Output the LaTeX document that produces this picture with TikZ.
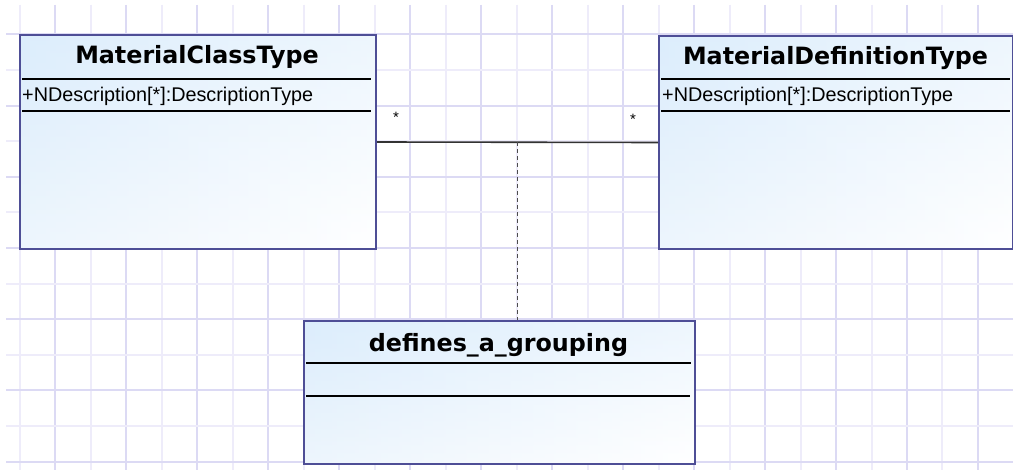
\documentclass[tikz,border=0pt]{standalone}
\usepackage{fontspec}
\setmainfont{Liberation Sans}
\newfontfamily\ttlfont{DejaVu Sans}
\usetikzlibrary{calc}
\definecolor{gridlight}{RGB}{238,236,250}
\definecolor{griddark}{RGB}{220,218,244}
\definecolor{boxborder}{RGB}{78,78,150}
\definecolor{boxfill}{RGB}{220,237,252}
\begin{document}
\begin{tikzpicture}[x=1pt,y=-1pt,
  classbox/.style={draw=boxborder, line width=2pt, top color=boxfill, bottom color=white, inner sep=0pt, anchor=north west,
    path picture={\shade[left color=boxfill, right color=white, fill opacity=0.5]
      (path picture bounding box.north west) rectangle (path picture bounding box.south east);}},
  sepline/.style={black, line width=1.5pt},
  titletext/.style={font=\ttlfont\bfseries\fontsize{23.8}{28}\selectfont, inner sep=0pt, anchor=base},
  attrtext/.style={font=\fontsize{19.8}{24}\selectfont, inner sep=0pt, anchor=base west},
  multtext/.style={font=\fontsize{15}{17}\selectfont, inner sep=0pt},
  assoc/.style={black!80, line width=1.6pt},
  dashlink/.style={black!70, line width=1.5pt, dash pattern=on 4pt off 3pt}]
\useasboundingbox (0,0) rectangle (1013,470);
\fill[white] (0,0) rectangle (1013,470);
% grid
\foreach \k in {0,...,27}{
  \pgfmathtruncatemacro{\odd}{mod(\k,2)}
  \ifnum\odd=1 \def\gc{griddark}\else\def\gc{gridlight}\fi
  \draw[\gc, line width=2pt] ({20+35.48*\k},5) -- ({20+35.48*\k},470);
}
\foreach \k in {0,...,12}{
  \pgfmathtruncatemacro{\odd}{mod(\k,2)}
  \ifnum\odd=0 \def\gc{griddark}\else\def\gc{gridlight}\fi
  \draw[\gc, line width=2pt] (6,{34.5+35.6*\k}) -- (1013,{34.5+35.6*\k});
}
% boxes
\node[classbox, minimum width=356pt, minimum height=214pt] (mct) at (19,34) {};
\node[classbox, minimum width=354pt, minimum height=213pt] (mdt) at (658,35) {};
\node[classbox, minimum width=391pt, minimum height=143pt] (dg) at (303,320) {};
% MaterialClassType
\node[titletext] (mcttitle) at (197,64) {MaterialClassType};
\draw[sepline] (22,79) -- (371,79);
\node[attrtext] (mctattr) at (22,102) {+NDescription[*]:DescriptionType};
\draw[sepline] (22,111) -- (371,111);
% MaterialDefinitionType
\node[titletext] (mdttitle) at (835.5,65) {MaterialDefinitionType};
\draw[sepline] (661,79) -- (1010,79);
\node[attrtext] (mdtattr) at (662,102) {+NDescription[*]:DescriptionType};
\draw[sepline] (661,111) -- (1010,111);
% defines_a_grouping
\node[titletext] (dgtitle) at (498.5,352) {defines\_a\_grouping};
\draw[sepline] (306,363) -- (691,363);
\draw[sepline] (306,396) -- (690,396);
% connectors
\draw[assoc] (mct.east) -- (mdt.west);
\coordinate (mid) at ($(mct.east)!0.5!(mdt.west)$);
\draw[dashlink] (mid) -- (mid |- dg.north);
\node[multtext] (m1) at (396,117) {*};
\node[multtext] (m2) at (633,119) {*};
\end{tikzpicture}
\end{document}
